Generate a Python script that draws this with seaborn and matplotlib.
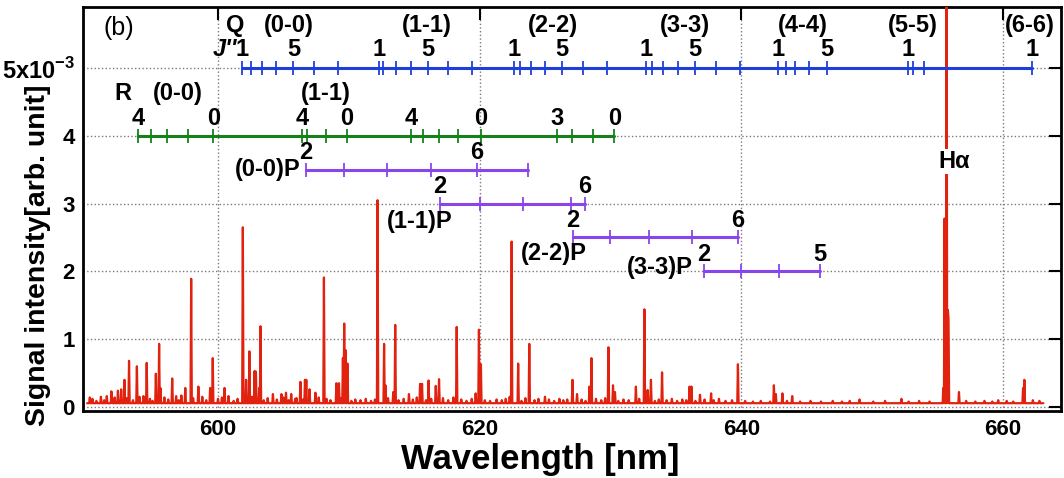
import numpy as np
import pandas as pd
import matplotlib
matplotlib.use("Agg")
import matplotlib.pyplot as plt
import seaborn as sns

# ---------------- data (intensity in units of 1e-3) ----------------
baseline_level = 0.055
spec_range = [590.0, 663.1]

peak_wl = [590.19, 591.03, 591.28, 591.84, 592.35, 592.61, 592.87, 593.22, 593.81, 594.32,
           594.55, 595.26, 595.51, 595.62, 596.48, 597.22, 597.50, 597.94, 598.52, 599.41,
           599.62, 600.51, 601.91, 602.16, 602.39, 602.81, 602.88, 603.13, 603.26, 604.20,
           604.84, 605.18, 605.60, 606.29, 606.65, 606.75, 607.01, 607.47, 608.08, 609.04,
           609.23, 609.56, 609.66, 609.77, 609.89, 612.18, 612.69, 612.82, 613.38, 613.53,
           614.60, 615.47, 615.60, 616.08, 616.64, 616.92, 618.25, 619.70, 619.95, 620.11,
           622.30, 622.45, 622.96, 623.80, 624.98, 626.68, 627.09, 627.45, 628.40, 628.54,
           629.87, 630.20, 630.33, 631.93, 632.62, 632.87, 633.10, 633.97, 636.06, 636.18,
           636.87, 637.71, 639.76, 642.51, 642.64, 643.14, 643.88, 649.06, 652.24, 655.43,
           655.56, 655.68, 655.80, 655.86, 656.65, 659.63, 661.54, 661.67]
peak_int = [0.14, 0.15, 0.10, 0.23, 0.24, 0.26, 0.40, 0.68, 0.60, 0.16,
            0.65, 0.49, 0.93, 0.28, 0.42, 0.17, 0.28, 1.89, 0.30, 0.28,
            0.72, 0.28, 2.65, 0.40, 0.82, 0.53, 0.52, 0.28, 1.19, 0.19,
            0.19, 0.21, 0.19, 0.37, 0.40, 0.40, 0.26, 0.21, 1.91, 0.35,
            0.35, 0.72, 1.23, 0.84, 0.64, 3.05, 0.93, 0.32, 0.22, 1.21,
            0.19, 0.34, 0.34, 0.39, 0.31, 0.41, 1.18, 0.20, 1.14, 0.63,
            0.15, 2.44, 0.64, 0.93, 0.15, 0.11, 0.40, 0.19, 0.30, 0.72,
            0.88, 0.32, 0.22, 0.30, 1.44, 0.25, 0.40, 0.51, 0.30, 0.30,
            0.18, 0.20, 0.63, 0.32, 0.19, 0.20, 0.16, 0.11, 0.12, 0.28,
            2.78, 8.00, 1.43, 1.31, 0.22, 0.10, 0.28, 0.40]

noise_wl = [590.4, 590.7, 591.5, 591.9, 592.1, 593.0, 593.5, 594.0, 594.8, 595.0,
            595.9, 596.2, 596.8, 597.0, 598.1, 598.8, 599.1, 600.0, 600.3, 600.8,
            601.2, 601.5, 602.6, 603.5, 603.8, 604.5, 605.0, 605.4, 605.9, 606.0,
            606.5, 607.7, 608.3, 608.6, 609.4, 610.2, 610.5, 610.9, 611.3, 611.7,
            612.0, 613.0, 613.8, 614.2, 614.9, 615.2, 615.9, 616.3, 617.2, 617.6,
            618.0, 618.6, 619.0, 619.4, 620.4, 620.8, 621.3, 621.7, 622.0, 623.2,
            623.5, 624.2, 624.5, 625.3, 625.7, 626.1, 626.4, 627.8, 628.1, 628.9,
            629.3, 629.6, 630.6, 631.0, 631.4, 632.2, 633.4, 633.7, 634.3, 634.7,
            635.1, 635.5, 635.8, 636.5, 637.2, 637.9, 638.3, 638.8, 639.3, 640.3,
            640.9, 641.5, 642.2, 643.5, 644.5, 645.3, 646.1, 647.0, 647.7, 648.3,
            650.1, 651.0, 652.8, 653.6, 654.4, 657.2, 657.9, 658.6, 659.2, 660.3,
            660.8, 662.3, 662.8]
noise_int = [0.12, 0.09, 0.16, 0.11, 0.14, 0.13, 0.10, 0.15, 0.12, 0.09,
             0.14, 0.11, 0.16, 0.10, 0.13, 0.15, 0.10, 0.12, 0.14, 0.16,
             0.09, 0.12, 0.15, 0.10, 0.13, 0.11, 0.14, 0.10, 0.12, 0.13,
             0.11, 0.14, 0.12, 0.10, 0.13, 0.09, 0.11, 0.10, 0.12, 0.09,
             0.11, 0.13, 0.10, 0.12, 0.11, 0.14, 0.10, 0.12, 0.13, 0.10,
             0.14, 0.11, 0.09, 0.12, 0.10, 0.09, 0.11, 0.10, 0.12, 0.09,
             0.13, 0.10, 0.12, 0.11, 0.09, 0.12, 0.10, 0.11, 0.09, 0.12,
             0.10, 0.13, 0.09, 0.11, 0.10, 0.12, 0.09, 0.11, 0.10, 0.12,
             0.09, 0.11, 0.10, 0.09, 0.11, 0.10, 0.12, 0.09, 0.10, 0.09,
             0.08, 0.09, 0.08, 0.09, 0.08, 0.09, 0.08, 0.09, 0.08, 0.09,
             0.08, 0.09, 0.08, 0.09, 0.08, 0.09, 0.08, 0.09, 0.08, 0.09,
             0.08, 0.10, 0.09]

# Q branch (blue)
q_wl = [601.86, 602.50, 603.36, 604.43, 605.76, 607.34, 609.15,
        612.29, 612.64, 613.61, 614.73, 616.06, 617.61, 619.42,
        622.65, 623.09, 623.91, 625.00, 626.32, 627.88, 629.72,
        632.72, 633.16, 634.04, 635.15, 636.47, 638.05, 639.91,
        642.79, 643.40, 644.11, 645.16, 646.54,
        652.73, 653.16, 654.00, 662.21]
q_num_wl = [601.86, 605.76, 612.29, 616.06, 622.65, 626.32, 632.72, 636.47, 642.79, 646.54, 652.73, 662.21]
q_num_txt = ["1", "5", "1", "5", "1", "5", "1", "5", "1", "5", "1", "1"]
q_band_wl = [605.43, 615.98, 625.60, 635.70, 644.70, 653.10, 662.10]
q_band_txt = ["(0-0)", "(1-1)", "(2-2)", "(3-3)", "(4-4)", "(5-5)", "(6-6)"]

# R branch (green)
r_wl = [593.91, 594.88, 596.08, 597.68, 599.64,
        606.44, 606.78, 608.23, 609.84,
        614.76, 615.70, 616.92, 618.37, 620.11,
        625.89, 627.04, 628.65, 630.30]
r_num_wl = [593.91, 599.64, 606.44, 609.84, 614.76, 620.11, 625.89, 630.30]
r_num_txt = ["4", "0", "4", "0", "4", "0", "3", "0"]
r_band_wl = [596.94, 608.26]
r_band_txt = ["(0-0)", "(1-1)"]

# P branches (purple)
p_names = ["(0-0)P", "(1-1)P", "(2-2)P", "(3-3)P"]
p_levels = [3.5, 3.0, 2.5, 2.0]
p_wl = [[606.70, 609.66, 612.92, 616.31, 619.78, 623.72],
        [616.97, 620.03, 623.34, 626.96, 628.06],
        [627.12, 629.97, 632.97, 636.26, 639.73],
        [637.16, 639.96, 642.91, 646.02]]
p_num_txt = [["2", "6"], ["2", "6"], ["2", "6"], ["2", "5"]]
p_num_idx = [[0, 4], [0, 4], [0, 4], [0, 3]]

x_ticks = [600, 620, 640, 660]
y_ticks = [0, 1, 2, 3, 4, 5]
y_ticklabels = ["0", "1", "2", "3", "4", r"5x10$^{\mathbf{-3}}$"]

# ---------------- build spectrum ----------------
step = 0.05
grid = np.arange(spec_range[0], spec_range[1] + step / 2, step)
spec = np.full(grid.shape, baseline_level)
for w, h in list(zip(noise_wl, noise_int)) + list(zip(peak_wl, peak_int)):
    i = int(round((w - spec_range[0]) / step))
    spec[i] = max(spec[i], h)
df = pd.DataFrame({"wl": grid, "I": spec})

# ---------------- style ----------------
sns.set_theme(style="white")
plt.rcParams["font.family"] = ["Liberation Sans", "DejaVu Sans"]
plt.rcParams["mathtext.fontset"] = "custom"
plt.rcParams["mathtext.rm"] = "Liberation Sans:bold"
plt.rcParams["mathtext.bf"] = "Liberation Sans:bold"
for k in ["text.color", "axes.labelcolor", "xtick.color", "ytick.color"]:
    plt.rcParams[k] = "black"

RED = "#e0220e"
BLUE = "#1f3fdc"
GREEN = "#16801a"
PURPLE = "#8a45ea"

fig = plt.figure(figsize=(10.64, 4.78), dpi=100)
ax = fig.add_axes([83 / 1064, 1 - 411 / 478, (1061 - 83) / 1064, (411 - 7) / 478])

sns.lineplot(data=df, x="wl", y="I", ax=ax, color=RED, linewidth=1.6,
             estimator=None, sort=False, zorder=3)

def branch(xs, level, color):
    d = pd.DataFrame({"x": xs, "y": [level] * len(xs)})
    sns.lineplot(data=d, x="x", y="y", ax=ax, color=color, linewidth=2.2,
                 marker="|", markersize=10, markeredgewidth=1.3,
                 markeredgecolor=color, estimator=None, sort=False, zorder=4)

FS = 17
tfont = dict(fontsize=FS, fontweight="bold", ha="center", va="center", zorder=6)

# Q
branch(q_wl, 5.0, BLUE)
for w, t in zip(q_num_wl, q_num_txt):
    ax.text(w, 5.27, t, **tfont)
for w, t in zip(q_band_wl, q_band_txt):
    ax.text(w, 5.63, t, clip_on=False, **tfont)
ax.text(601.3, 5.63, "Q", **tfont)
ax.text(601.45, 5.27, "J''", fontsize=FS, fontweight="bold", fontstyle="italic",
        ha="right", va="center", zorder=6)

# R
branch(r_wl, 4.0, GREEN)
for w, t in zip(r_num_wl, r_num_txt):
    ax.text(w, 4.26, t, **tfont)
for w, t in zip(r_band_wl, r_band_txt):
    ax.text(w, 4.63, t, **tfont)
ax.text(592.74, 4.63, "R", **tfont)

# P
p_label_pos = [(606.3, 3.51, "right"), (615.44, 2.73, "center"),
               (625.69, 2.27, "center"), (633.77, 2.05, "center")]
for name, lev, xs, nums, idx, (lx, ly, ha) in zip(p_names, p_levels, p_wl, p_num_txt,
                                                   p_num_idx, p_label_pos):
    branch(xs, lev, PURPLE)
    for t, k in zip(nums, idx):
        ax.text(xs[k], lev + 0.25, t, **tfont)
    ax.text(lx, ly, name, fontsize=FS, fontweight="bold", ha=ha, va="center", zorder=6)

ax.text(656.25, 3.62, "H\u03b1", fontsize=FS, fontweight="bold", ha="center", va="center",
        zorder=6, bbox=dict(facecolor="white", edgecolor="none", pad=1.0))
ax.text(592.4, 5.59, "(b)", fontsize=18, ha="center", va="center", zorder=6)

# axes
ax.set_xlim(589.68, 664.45)
ax.set_ylim(-0.06, 5.9)
ax.set_xticks(x_ticks)
ax.set_xticklabels([str(v) for v in x_ticks])
ax.set_yticks(y_ticks)
ax.set_yticklabels(y_ticklabels)
ax.grid(True, linestyle=":", color="#7a7a7a", linewidth=1.0)
ax.set_axisbelow(True)
ax.tick_params(direction="in", length=9, width=1.5, top=True, right=True,
               labelsize=16, colors="black", pad=6)
for lab in ax.get_xticklabels() + ax.get_yticklabels():
    lab.set_fontweight("bold")
ax.get_yticklabels()[-1].set_fontsize(17)
for s in ax.spines.values():
    s.set_linewidth(2.0)
    s.set_color("black")
ax.set_xlabel("Wavelength [nm]", fontsize=25, fontweight="bold")
ax.set_ylabel("Signal intensity[arb. unit]", fontsize=20.5, fontweight="bold")
ax.xaxis.set_label_coords((540 - 83) / 978, (411 - 460) / 404)
ax.yaxis.set_label_coords((38 - 83) / 978, (411 - 255) / 404)
ax.xaxis.label.set_va("center")
ax.yaxis.label.set_va("center")

fig.savefig("out.png", dpi=100)
